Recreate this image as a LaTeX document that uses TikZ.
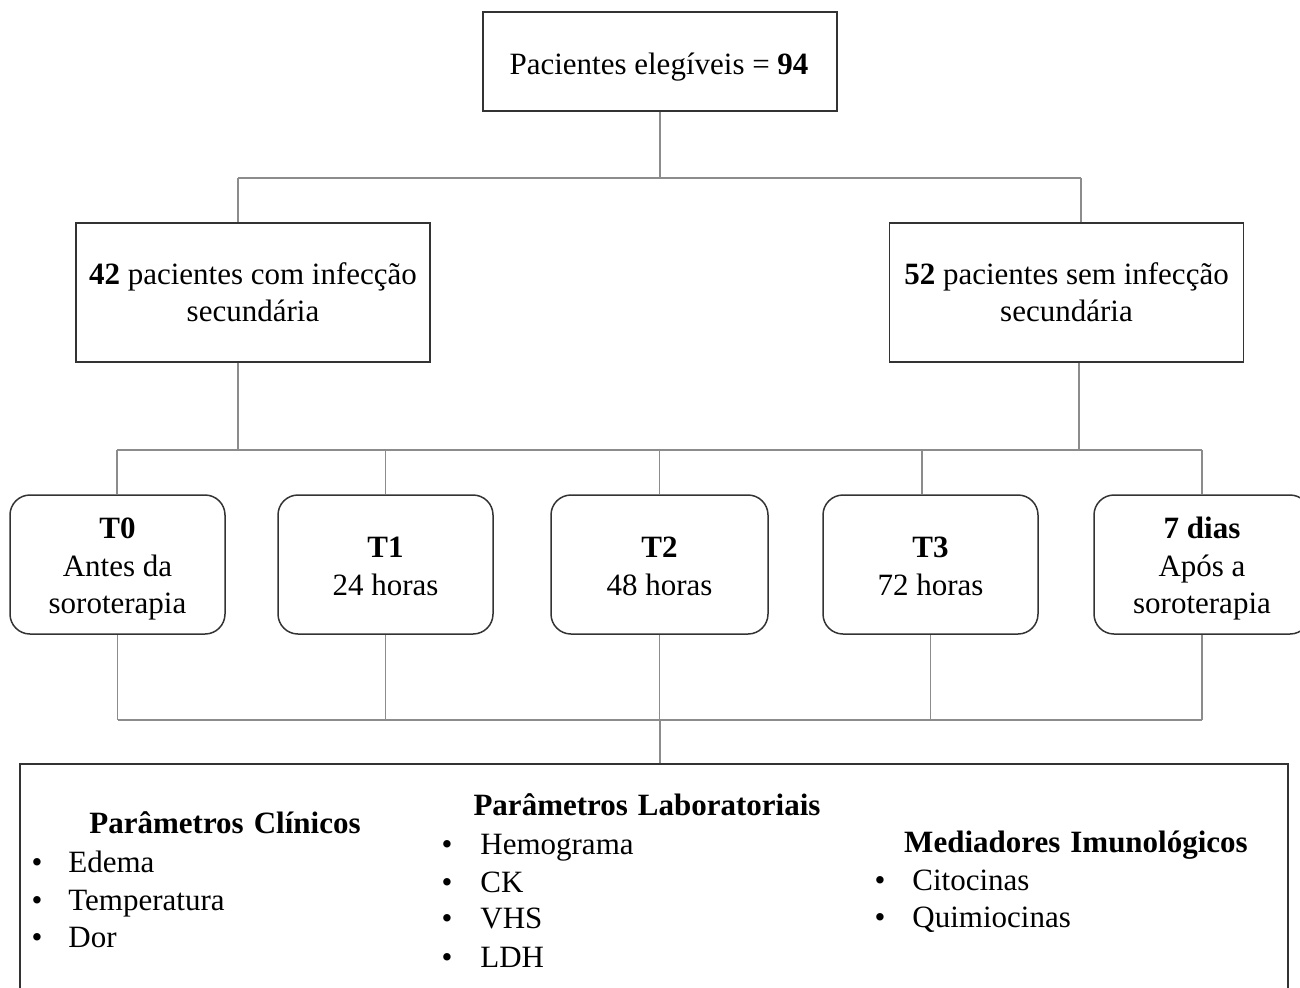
\documentclass[tikz,border=0pt]{standalone}
\usepackage{fontspec}
\setmainfont{Liberation Serif}
\begin{document}
\begin{tikzpicture}[x=0.5pt,y=-0.5pt,
  box/.style={draw=black!80, line width=0.75pt, inner sep=0pt},
  sq/.style={box, minimum width=177pt, minimum height=69.5pt},
  tbox/.style={box, rounded corners=10pt, minimum width=107.5pt, minimum height=69.5pt},
  conn/.style={draw=black!45, line width=0.55pt},
  txt/.style={inner sep=0pt, font=\fontsize{15.5}{19}\selectfont},
  lbl/.style={txt, anchor=base},
  head/.style={txt, anchor=base, font=\fontsize{15.5}{19}\selectfont\bfseries},
  bul/.style={txt, anchor=base},
  item/.style={txt, anchor=base west},
]
\useasboundingbox (0,0) rectangle (1300,987);
\clip (0,0) rectangle (1300,987);

% boxes
\node[box, minimum width=177pt, minimum height=49.5pt] (top) at (660,61.5) {};
\node[sq] (left) at (253,292.5) {};
\node[sq] (right) at (1066.5,292.5) {};
\node[tbox] (t0) at (117.5,564.5) {};
\node[tbox] (t1) at (385.5,564.5) {};
\node[tbox, minimum width=108.5pt] (t2) at (659.5,564.5) {};
\node[tbox] (t3) at (930.5,564.5) {};
\node[tbox, minimum width=108pt] (t4) at (1202,564.5) {};
\node[box, minimum width=634pt, minimum height=130pt, anchor=north] (params) at (654,763) {};

% box texts
\node[lbl] (topa) at (659,74) {Pacientes elegíveis = \textbf{94}};
\node[lbl] (lefta) at (253,284.5) {\textbf{42} pacientes com infecção};
\node[lbl] (leftb) at (253,321.5) {secundária};
\node[lbl] (righta) at (1066.5,284.5) {\textbf{52} pacientes sem infecção};
\node[lbl] (rightb) at (1066.5,321.5) {secundária};
\node[lbl] (t0a) at (117.5,538) {\textbf{T0}};
\node[lbl] (t0b) at (117.5,576) {Antes da};
\node[lbl] (t0c) at (117.5,613) {soroterapia};
\node[lbl] (t1a) at (385.5,557) {\textbf{T1}};
\node[lbl] (t1b) at (385.5,595) {24 horas};
\node[lbl] (t2a) at (659.5,557) {\textbf{T2}};
\node[lbl] (t2b) at (659.5,595) {48 horas};
\node[lbl] (t3a) at (930.5,557) {\textbf{T3}};
\node[lbl] (t3b) at (930.5,595) {72 horas};
\node[lbl] (t4a) at (1202,538) {\textbf{7 dias}};
\node[lbl] (t4b) at (1202,576) {Após a};
\node[lbl] (t4c) at (1202,613) {soroterapia};

% first level
\coordinate (aL) at (238,178);
\coordinate (aR) at (1081,178);
\draw[conn] (top.south) -- (top.south |- aL);
\draw[conn] (aL) -- (aR);
\draw[conn] (aL) -- (aL |- left.north);
\draw[conn] (aR) -- (aR |- right.north);

% second level
\coordinate (bL) at (117,450);
\coordinate (bR) at (1202,450);
\coordinate (cL) at (238,450);
\coordinate (cR) at (1079,450);
\coordinate (d3) at (922,450);
\draw[conn] (left.south -| cL) -- (cL);
\draw[conn] (right.south -| cR) -- (cR);
\draw[conn] (bL) -- (bR);
\draw[conn] (bL) -- (bL |- t0.north);
\draw[conn] (t1.north) -- (t1.north |- bL);
\draw[conn] (t2.north) -- (t2.north |- bL);
\draw[conn] (d3) -- (d3 |- t3.north);
\draw[conn] (t4.north) -- (t4.north |- bL);

% third level
\coordinate (eL) at (118,720);
\coordinate (eR) at (1202,720);
\coordinate (f) at (660,720);
\draw[conn] (eL) -- (eR);
\draw[conn] (t0.south) -- (t0.south |- eL);
\draw[conn] (t1.south) -- (t1.south |- eL);
\draw[conn] (t2.south) -- (t2.south |- eL);
\draw[conn] (t3.south) -- (t3.south |- eL);
\draw[conn] (t4.south) -- (t4.south |- eL);
\draw[conn] (f) -- (f |- params.north);

% column 1
\node[head] (h1) at (225,833) {Parâmetros\hspace{5pt}Clínicos};
\node[bul] (b11) at (37,872) {\textbullet};
\node[item] (i11) at (68,872) {Edema};
\node[bul] (b12) at (37,910) {\textbullet};
\node[item] (i12) at (68,910) {Temperatura};
\node[bul] (b13) at (37,947) {\textbullet};
\node[item] (i13) at (68,947) {Dor};

% column 2
\node[head] (h2) at (647,815) {Parâmetros\hspace{5pt}Laboratoriais};
\node[bul] (b21) at (447,854) {\textbullet};
\node[item] (i21) at (480,854) {Hemograma};
\node[bul] (b22) at (447,892) {\textbullet};
\node[item] (i22) at (480,892) {CK};
\node[bul] (b23) at (447,928) {\textbullet};
\node[item] (i23) at (480,928) {VHS};
\node[bul] (b24) at (447,967) {\textbullet};
\node[item] (i24) at (480,967) {LDH};

% column 3
\node[head] (h3) at (1076,852) {Mediadores\hspace{5pt}Imunológicos};
\node[bul] (b31) at (880,890) {\textbullet};
\node[item] (i31) at (912,890) {Citocinas};
\node[bul] (b32) at (880,927) {\textbullet};
\node[item] (i32) at (912,927) {Quimiocinas};
\end{tikzpicture}
\end{document}
